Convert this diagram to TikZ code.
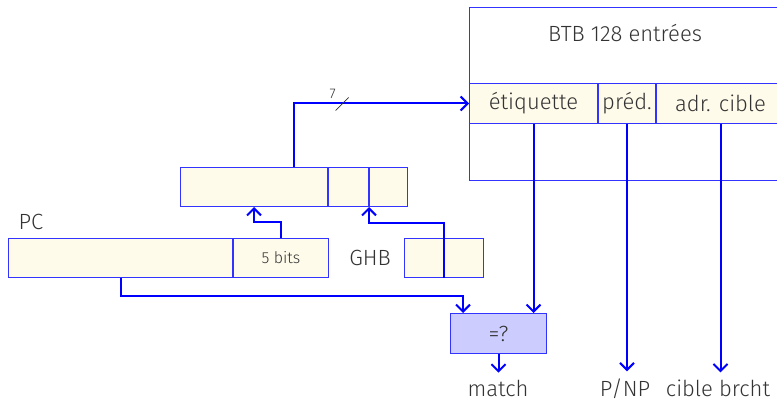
\documentclass[tikz,border=0pt]{standalone}
\usepackage{fontspec}
\setmainfont{Fira Sans}[UprightFont={* Light}]
\usetikzlibrary{positioning,calc,arrows.meta}
\definecolor{cellfill}{HTML}{FFFBEA}
\definecolor{cmpfill}{HTML}{CCCCFF}
\definecolor{txtgray}{HTML}{333333}
\tikzset{
  cell/.style={draw=blue!80, line width=0.5pt, fill=cellfill, anchor=north west,
    minimum height=19.5pt, inner sep=0pt, text=txtgray},
  bus/.style={blue, line width=1pt, -{Straight Barb[length=3.5pt,width=7pt]}},
}

\begin{document}
\begin{tikzpicture}[x=0.5pt, y=-0.5pt, font=\fontsize{11}{13}\selectfont,
    every node/.append style={text=txtgray}]
    \useasboundingbox (0,0) rectangle (777,401);
    \clip (0,0) rectangle (777,401);

    % BTB
    \node[cell, fill=white, minimum width=156.5pt, minimum height=86.5pt] (btb) at (469,7) {};
    \node (btbname) at (625,33) {BTB 128 entrées};
    \node[cell, minimum width=64pt, minimum height=20pt] (etiq) at (469,83) {étiquette};
    \node[cell, minimum width=28.5pt, minimum height=20pt] (pred) at (etiq.north east) {préd.};
    \node[cell, minimum width=64pt, minimum height=20pt] (adr) at (pred.north east) {adr. cible};

    % index register
    \node[cell, minimum width=73.5pt] (idx1) at (180,167) {};
    \node[cell, minimum width=20pt] (idx2) at (idx1.north east) {};
    \node[cell, minimum width=19pt] (idx3) at (idx2.north east) {};

    % PC and GHB
    \node (pclbl) at (31,222) {PC};
    \node[cell, minimum width=112pt] (pc1) at (8,238) {};
    \node[cell, minimum width=47.5pt, font=\fontsize{8}{10}\selectfont] (pc2) at (pc1.north east) {5 bits};
    \node (ghblbl) at (370,258) {GHB};
    \node[cell, minimum width=19.5pt] (ghb1) at (404,238) {};
    \node[cell, minimum width=19.5pt] (ghb2) at (ghb1.north east) {};

    % comparator and outputs
    \node[cell, fill=cmpfill, minimum width=48pt, minimum height=20pt] (cmp) at (450,313) {=?};
    \node[anchor=base] (match) at (498,396) {match};
    \node[anchor=base] (pnp) at (625,396) {P/NP};
    \node[anchor=base] (cbr) at (718,396) {cible brcht};

    \draw[bus] ($(idx1.north west)!0.5!(idx3.north east)$) |- (etiq.west) coordinate[pos=0.639] (w7);
    \draw[black!80, line width=0.4pt] ($(w7)+(-7,7)$) -- ($(w7)+(6,-6)$);
    \node[font=\fontsize{7}{8}\selectfont, inner sep=0pt] (buswidth) at ($(w7)+(-10,-10)$) {7};
    \draw[bus] (pc2.north) -- ++(0,-16) -| (idx1.south);
    \draw[bus] (ghb1.south east) -- ++(0,-55) -| (idx3.south west);
    \draw[bus] (pc1.south) -- ++(0,18) -| ([xshift=6.5pt]cmp.north west);
    \draw[bus] (etiq.south) -- (etiq.south |- cmp.north);
    \foreach \a/\b in {cmp/match, pred/pnp, adr/cbr}
        \draw[bus] (\a.south) -- (\a.south |- \b.north);
\end{tikzpicture}
\end{document}
